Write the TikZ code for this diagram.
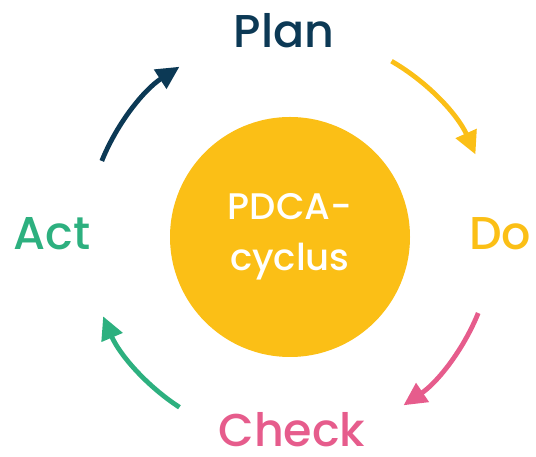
\documentclass[tikz,border=0pt]{standalone}
\usepackage{fontspec}
\setmainfont{Poppins}[BoldFont={Poppins Medium}]
\usetikzlibrary{arrows.meta,positioning}
\definecolor{pdcayellow}{HTML}{FBBF16}
\definecolor{pdcanavy}{HTML}{0C3955}
\definecolor{pdcapink}{HTML}{E65C8C}
\definecolor{pdcagreen}{HTML}{2DB07F}
\tikzset{
  phase/.style={font=\fontsize{46}{50}\selectfont\bfseries, anchor=base, inner sep=0pt},
  turn/.style={line width=4.8pt, -{Triangle[length=23pt,width=22pt]}},
}
\begin{document}
\begin{tikzpicture}[x=1pt, y=1pt]
      \useasboundingbox (0,0) rectangle (536,457);
      % Define nodes
      \node[circle, fill=pdcayellow, minimum size=240pt] (cycle) at (290,220) {};
      \node[text=white, align=center, font=\fontsize{37}{51}\selectfont\bfseries, anchor=base]
        (cyclelabel) at (290,186) {PDCA-\\cyclus};
      \node[phase, text=pdcanavy]   (plan)  at (284,409) {Plan};
      \node[phase, text=pdcayellow] (do)    at (500,207) {Do};
      \node[phase, text=pdcapink]   (check) at (292,10)  {Check};
      \node[phase, text=pdcagreen]  (act)   at (52,207)  {Act};
      % Connect nodes
      \coordinate (plando)   at ([shift={(60:203)}]cycle.center);
      \coordinate (docheck)  at ([shift={(-22:203)}]cycle.center);
      \coordinate (checkact) at ([shift={(-123:203)}]cycle.center);
      \coordinate (actplan)  at ([shift={(158:203)}]cycle.center);
      \draw[turn, pdcayellow] (plando)   arc[start angle=60,  end angle=24,   radius=203];
      \draw[turn, pdcapink]   (docheck)  arc[start angle=-22, end angle=-56,  radius=203];
      \draw[turn, pdcagreen]  (checkact) arc[start angle=-123,end angle=-157, radius=203];
      \draw[turn, pdcanavy]   (actplan)  arc[start angle=158, end angle=123,  radius=203];
    \end{tikzpicture}
\end{document}
